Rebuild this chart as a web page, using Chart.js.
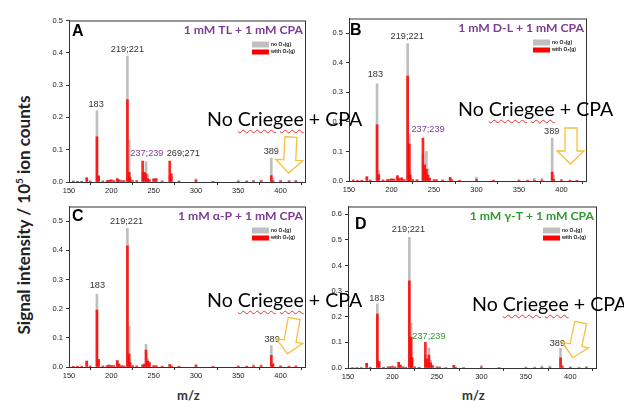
<!DOCTYPE html>
<html>
<head>
<meta charset="utf-8">
<script src="https://cdn.jsdelivr.net/npm/chart.js@4.4.0/dist/chart.umd.min.js"></script>
<style>
  body { margin: 0; background: #fff; }
  #page { position: relative; width: 624px; height: 401px; overflow: hidden; font-family: Lato, "Open Sans", sans-serif; }
  canvas { position: absolute; }
  .ov { position: absolute; white-space: nowrap; }
  .nc { font-size: 19.6px; color: #000; line-height: 1; }
  .sq { text-decoration: underline wavy #e33; text-decoration-thickness: 1px; text-underline-offset: 3px; }
  .mz { font-weight: bold; font-size: 13px; color: #333; }
  #ylab { left: 23px; top: 215px; transform: translate(-50%, -50%) rotate(-90deg); font-weight: bold; font-size: 17px; color: #222; }
  svg { position: absolute; left: 0; top: 0; }
</style>
</head>
<body>
<div id="page">
  <canvas id="cA" width="266" height="183" style="left:40px;top:13px"></canvas>
  <canvas id="cB" width="267" height="184" style="left:320px;top:11px"></canvas>
  <canvas id="cC" width="266" height="182" style="left:40px;top:199px"></canvas>
  <canvas id="cD" width="278" height="183" style="left:319px;top:199px"></canvas>

  <div id="ylab" class="ov">Signal intensity / 10<sup style="font-size:10px">5</sup> ion counts</div>
  <div class="ov mz" style="left:177px;top:387px">m/z</div>
  <div class="ov mz" style="left:462px;top:387px">m/z</div>

  <div class="ov nc" style="left:207px;top:109px">No <span class="sq">Criegee</span> + CPA</div>
  <div class="ov nc" style="left:458px;top:99px">No <span class="sq">Criegee</span> + CPA</div>
  <div class="ov nc" style="left:207px;top:290px">No <span class="sq">Criegee</span> + CPA</div>
  <div class="ov nc" style="left:472px;top:294px">No <span class="sq">Criegee</span> + CPA</div>

  <svg width="624" height="401">
    <g fill="none" stroke="#f5c040" stroke-width="1.3" stroke-linejoin="miter">
      <polygon transform="translate(276,137) rotate(3 13 18)" points="8,0 20,0 20,23 27,23 13.5,36 0,23 8,23"/>
      <polygon transform="translate(557,128)" points="8,0 20,0 20,23 27,23 13.5,36 0,23 8,23"/>
      <polygon transform="translate(277,318) rotate(10 13 18)" points="8,0 20,0 20,23 27,23 13.5,36 0,23 8,23"/>
      <polygon transform="translate(563,322) rotate(12 13 18)" points="8,0 20,0 20,23 27,23 13.5,36 0,23 8,23"/>
    </g>
  </svg>
</div>

<script>
'use strict';

// m/z positions of the peaks (shared by all four spectra)
const mz = [155, 160, 165, 171, 175, 183, 185, 190, 195, 197, 200, 203, 207, 209, 212, 215,
  219, 221, 222, 225, 230, 237, 239, 241, 243, 245, 250, 253, 260, 269, 271, 280,
  300, 320, 350, 360, 368, 377, 389, 391, 400, 410, 418];

// A: 1 mM TL + 1 mM CPA
const noO3A = [0.004, 0.003, 0.003, 0.015, 0.004, 0.22, 0.02, 0.004, 0.005, 0.006, 0.008, 0.005, 0.012, 0.008, 0.006, 0.005,
  0.39, 0.13, 0.025, 0.006, 0.005, 0.03, 0.03, 0.063, 0.022, 0.01, 0.01, 0.012, 0.004, 0.02, 0.012, 0.004,
  0.01, 0.003, 0.006, 0.005, 0.006, 0.006, 0.073, 0.012, 0.006, 0.005, 0.005];
const withO3A = [0.003, 0.002, 0.002, 0.012, 0.003, 0.14, 0.018, 0.003, 0.004, 0.005, 0.006, 0.004, 0.01, 0.006, 0.004, 0.004,
  0.255, 0.03, 0.015, 0.004, 0.004, 0.065, 0.03, 0.025, 0.01, 0.006, 0.01, 0.01, 0.003, 0.065, 0.025, 0.003,
  0.006, 0.002, 0.002, 0.002, 0.003, 0.004, 0.02, 0.004, 0.004, 0.003, 0.004];

// B: 1 mM D-L + 1 mM CPA
const noO3B = [0.004, 0.003, 0.003, 0.015, 0.004, 0.33, 0.035, 0.004, 0.005, 0.006, 0.008, 0.008, 0.015, 0.01, 0.012, 0.006,
  0.465, 0.16, 0.03, 0.006, 0.005, 0.09, 0.05, 0.1, 0.04, 0.012, 0.006, 0.005, 0.004, 0.01, 0.005, 0.003,
  0.013, 0.004, 0.006, 0.004, 0.009, 0.009, 0.145, 0.02, 0.006, 0.004, 0.004];
const withO3B = [0.003, 0.002, 0.002, 0.014, 0.003, 0.19, 0.022, 0.003, 0.004, 0.005, 0.007, 0.006, 0.018, 0.008, 0.01, 0.004,
  0.355, 0.125, 0.02, 0.004, 0.004, 0.145, 0.055, 0.04, 0.02, 0.008, 0.004, 0.004, 0.003, 0.012, 0.004, 0.002,
  0.006, 0.002, 0.002, 0.002, 0.003, 0.003, 0.03, 0.006, 0.003, 0.002, 0.002];

// C: 1 mM a-P + 1 mM CPA
const noO3C = [0.003, 0.003, 0.003, 0.02, 0.004, 0.25, 0.025, 0.004, 0.005, 0.008, 0.006, 0.005, 0.022, 0.012, 0.006, 0.004,
  0.475, 0.14, 0.03, 0.006, 0.004, 0.01, 0.012, 0.078, 0.03, 0.018, 0.006, 0.005, 0.003, 0.008, 0.004, 0.003,
  0.01, 0.003, 0.005, 0.004, 0.008, 0.008, 0.073, 0.015, 0.005, 0.004, 0.004];
const withO3C = [0.002, 0.002, 0.002, 0.02, 0.003, 0.195, 0.025, 0.003, 0.004, 0.006, 0.005, 0.004, 0.022, 0.01, 0.004, 0.003,
  0.415, 0.045, 0.015, 0.004, 0.003, 0.006, 0.008, 0.058, 0.02, 0.015, 0.004, 0.004, 0.002, 0.008, 0.003, 0.002,
  0.006, 0.002, 0.002, 0.002, 0.003, 0.004, 0.04, 0.01, 0.003, 0.002, 0.003];

// D: 1 mM g-T + 1 mM CPA
const noO3D = [0.003, 0.003, 0.003, 0.018, 0.004, 0.25, 0.025, 0.004, 0.005, 0.006, 0.008, 0.005, 0.022, 0.012, 0.006, 0.004,
  0.51, 0.175, 0.04, 0.006, 0.004, 0.05, 0.035, 0.078, 0.03, 0.012, 0.006, 0.005, 0.003, 0.01, 0.004, 0.003,
  0.01, 0.003, 0.005, 0.004, 0.008, 0.008, 0.077, 0.012, 0.005, 0.004, 0.005];
const withO3D = [0.002, 0.002, 0.002, 0.018, 0.003, 0.21, 0.025, 0.003, 0.004, 0.005, 0.006, 0.004, 0.022, 0.01, 0.004, 0.003,
  0.34, 0.12, 0.04, 0.004, 0.003, 0.1, 0.035, 0.05, 0.02, 0.008, 0.004, 0.004, 0.002, 0.01, 0.003, 0.002,
  0.004, 0.002, 0.002, 0.002, 0.003, 0.003, 0.04, 0.006, 0.003, 0.002, 0.004];

// tick labels
const xTicks = [150, 200, 250, 300, 350, 400];
const yTicks5 = [0, 0.1, 0.2, 0.3, 0.4, 0.5];
const yTicks6 = [0, 0.1, 0.2, 0.3, 0.4, 0.5, 0.6];

const purple = '#7d3a96',
  green = '#2f9a2f',
  grayBar = '#bfbfbf',
  redBar = 'rgba(255,0,0,0.85)';

// peak annotations: [m/z, intensity, text, colour]
const peaksA = [[182, 0.24, '183'], [219, 0.41, '219;221'], [242, 0.088, '237;239', purple], [285, 0.088, '269;271'], [389, 0.094, '389']];
const peaksB = [[181, 0.36, '183'], [218.5, 0.49, '219;221'], [243, 0.175, '237;239', purple], [388.5, 0.168, '389']];
const peaksC = [[183.5, 0.28, '183'], [218, 0.5, '219;221'], [390, 0.094, '389']];
const peaksD = [[182.5, 0.27, '183'], [218, 0.54, '219;221'], [241, 0.122, '237;239', green], [385.5, 0.095, '389']];

// box, panel letter, title, legend and peak labels
const decor = {
  id: 'decor',
  afterDatasetsDraw(chart, args, o) {
    const ctx = chart.ctx, a = chart.chartArea;
    const xs = chart.scales.x, ys = chart.scales.y;
    ctx.save();
    ctx.strokeStyle = '#333';
    ctx.lineWidth = 1;
    ctx.strokeRect(a.left + 0.5, a.top + 0.5, a.right - a.left - 1, a.bottom - a.top);

    ctx.fillStyle = '#000';
    ctx.font = 'bold 16px Arial';
    ctx.textBaseline = 'middle';
    ctx.textAlign = 'left';
    ctx.fillText(o.letter, a.left + o.lx, a.top + o.ly);

    ctx.font = 'bold 12.2px Lato';
    ctx.textAlign = 'right';
    ctx.fillStyle = o.titleColor;
    ctx.fillText(o.title, a.right - 3, a.top + 10);

    // legend
    ctx.fillStyle = grayBar;
    ctx.fillRect(a.right - 54, a.top + 21, 17, 6);
    ctx.fillStyle = '#ff0000';
    ctx.fillRect(a.right - 54, a.top + 29, 17, 5);
    ctx.fillStyle = '#222';
    ctx.font = 'bold 5px Arial';
    ctx.textAlign = 'left';
    ctx.fillText('no O\u2083(g)', a.right - 35, a.top + 24);
    ctx.fillText('with O\u2083(g)', a.right - 35, a.top + 31.5);

    ctx.font = '9.2px Arial';
    ctx.textAlign = 'center';
    o.peaks.forEach(function (p) {
      ctx.fillStyle = p[3] || '#333';
      ctx.fillText(p[2], xs.getPixelForValue(p[0]), ys.getPixelForValue(p[1]));
    });
    ctx.restore();
  }
};

function pts(vals) {
  return mz.map(function (m, i) { return { x: m, y: vals[i] }; });
}

function spectrum(id, noO3, withO3, yMax, yTicks, deco) {
  return new Chart(document.getElementById(id), {
    type: 'bar',
    data: {
      datasets: [
        { label: 'no O3(g)', data: pts(noO3), backgroundColor: grayBar, order: 1, grouped: false, barThickness: 2 },
        { label: 'with O3(g)', data: pts(withO3), backgroundColor: redBar, order: 0, grouped: false, barThickness: 2 }
      ]
    },
    options: {
      responsive: false,
      devicePixelRatio: 1,
      animation: false,
      layout: { padding: { top: 4, right: 0, left: 0, bottom: 0 } },
      plugins: { legend: { display: false }, tooltip: { enabled: false }, decor: deco },
      scales: {
        x: {
          type: 'linear',
          min: 150,
          max: 430,
          offset: false,
          afterBuildTicks: function (s) { s.ticks = xTicks.map(function (v) { return { value: v }; }); },
          afterFit: function (s) { s.height = 14; },
          grid: { drawOnChartArea: false, tickLength: 3, color: '#333' },
          border: { color: '#333' },
          ticks: { color: '#222', font: { family: 'Arial', size: 7.5 }, padding: 1, maxRotation: 0 }
        },
        y: {
          min: 0,
          max: yMax,
          afterBuildTicks: function (s) { s.ticks = yTicks.map(function (v) { return { value: v }; }); },
          afterFit: function (s) { s.width = 29; },
          grid: { drawOnChartArea: false, tickLength: 3, color: '#333' },
          border: { color: '#333' },
          ticks: {
            color: '#222', font: { family: 'Arial', size: 7.5 }, padding: 3,
            callback: function (v) { return v.toFixed(1); }
          }
        }
      }
    },
    plugins: [decor]
  });
}

spectrum('cA', noO3A, withO3A, 0.5, yTicks5, { letter: 'A', lx: 3, ly: 11, title: '1 mM TL + 1 mM CPA', titleColor: purple, peaks: peaksA });
spectrum('cB', noO3B, withO3B, 0.55, yTicks5, { letter: 'B', lx: 1, ly: 12, title: '1 mM D-L + 1 mM CPA', titleColor: purple, peaks: peaksB });
spectrum('cC', noO3C, withO3C, 0.55, yTicks5, { letter: 'C', lx: 3, ly: 10, title: '1 mM \u03b1-P + 1 mM CPA', titleColor: purple, peaks: peaksC });
spectrum('cD', noO3D, withO3D, 0.63, yTicks6, { letter: 'D', lx: 7, ly: 18, title: '1 mM \u03b3-T + 1 mM CPA', titleColor: green, peaks: peaksD });
</script>
</body>
</html>
